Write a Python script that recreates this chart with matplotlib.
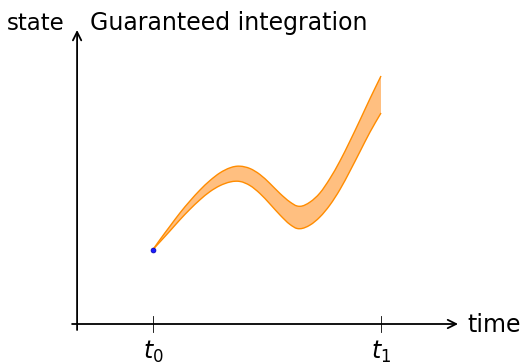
import numpy as np
import matplotlib
matplotlib.use("Agg")
import matplotlib.pyplot as plt
from matplotlib.path import Path
from matplotlib.patches import PathPatch

# time samples between t0 (=0) and t1 (=1)
t = [0.000, 0.031, 0.075, 0.118, 0.162, 0.206, 0.250, 0.294, 0.338, 0.364,
     0.382, 0.425, 0.469, 0.513, 0.557, 0.601, 0.632, 0.645, 0.689, 0.732,
     0.776, 0.820, 0.864, 0.908, 0.952, 1.000]

# upper and lower enclosure of the state
upper = [0.745, 0.845, 0.98, 1.11, 1.23, 1.34, 1.435, 1.512, 1.562, 1.577,
         1.578, 1.555, 1.495, 1.405, 1.305, 1.22, 1.18, 1.177, 1.22, 1.31,
         1.455, 1.63, 1.83, 2.04, 2.255, 2.48]
lower = [0.745, 0.822, 0.932, 1.042, 1.147, 1.242, 1.324, 1.384, 1.42, 1.428,
         1.425, 1.385, 1.305, 1.20, 1.09, 0.995, 0.955, 0.953, 0.99, 1.07,
         1.19, 1.345, 1.53, 1.725, 1.92, 2.11]

tick_pos = [0.0, 1.0]
tick_labels = [r"$t_0$", r"$t_1$"]


def slopes(x, y):
    x = np.asarray(x, float)
    y = np.asarray(y, float)
    h = np.diff(x)
    d = np.diff(y) / h
    m = np.empty_like(y)
    m[0], m[-1] = d[0], d[-1]
    m[1:-1] = (d[1:] * h[:-1] + d[:-1] * h[1:]) / (h[:-1] + h[1:])
    return m


def smooth_segments(x, y):
    # cubic bezier pieces through the sample points (like a smooth plot)
    m = slopes(x, y)
    verts = []
    for i in range(len(x) - 1):
        h = x[i + 1] - x[i]
        verts += [(x[i] + h / 3, y[i] + m[i] * h / 3),
                  (x[i + 1] - h / 3, y[i + 1] - m[i + 1] * h / 3),
                  (x[i + 1], y[i + 1])]
    return verts


def smooth_path(x, y):
    verts = [(x[0], y[0])] + smooth_segments(x, y)
    codes = [Path.MOVETO] + [Path.CURVE4] * (len(verts) - 1)
    return Path(verts, codes)


plt.rcParams['font.family'] = ['DejaVu Sans']
plt.rcParams['mathtext.fontset'] = 'dejavusans'

fig = plt.figure(figsize=(5.24, 3.64), dpi=100)
ax = fig.add_axes([0, 0, 1, 1])
ax.set_xlim(-0.6711, 1.6272)
ax.set_ylim(-0.40, 3.24)
ax.axis('off')

orange = '#ff8c00'
fill = '#ffbf80'

# band: along the upper bound, then back along the lower bound
up = smooth_segments(t, upper)
lo = smooth_segments(t[::-1], lower[::-1])
verts = [(t[0], upper[0])] + up + [(t[-1], lower[-1])] + lo + [(t[0], upper[0])]
codes = ([Path.MOVETO] + [Path.CURVE4] * len(up) + [Path.LINETO]
         + [Path.CURVE4] * len(lo) + [Path.CLOSEPOLY])
ax.add_patch(PathPatch(Path(verts, codes), facecolor=fill, edgecolor='none'))

for vals in (upper, lower):
    ax.add_patch(PathPatch(smooth_path(t, vals), facecolor='none',
                           edgecolor=orange, lw=1.0))
ax.plot(t[0], upper[0], 'o', color='#1a1aff', ms=3.5, mec='#0000aa',
        mew=0.5, zorder=5)

# axes with arrows
yaxis_t = -0.333
ax.annotate('', xy=(1.338, 0), xytext=(-0.355, 0),
            arrowprops=dict(arrowstyle='->', lw=1.3, color='black',
                            mutation_scale=15, shrinkA=0, shrinkB=0))
ax.annotate('', xy=(yaxis_t, 2.94), xytext=(yaxis_t, -0.06),
            arrowprops=dict(arrowstyle='->', lw=1.3, color='black',
                            mutation_scale=15, shrinkA=0, shrinkB=0))

for p, lab in zip(tick_pos, tick_labels):
    ax.plot([p, p], [-0.08, 0.08], color='black', lw=0.6)
    ax.text(p, -0.145, lab, ha='center', va='top', fontsize=17)

ax.text(-0.39, 2.94, 'state', ha='right', va='baseline', fontsize=16.5)
ax.text(-0.276, 2.94, 'Guaranteed integration', ha='left', va='baseline', fontsize=17)
ax.text(1.377, -0.08, 'time', ha='left', va='baseline', fontsize=17)

fig.savefig('out.png', dpi=100)
